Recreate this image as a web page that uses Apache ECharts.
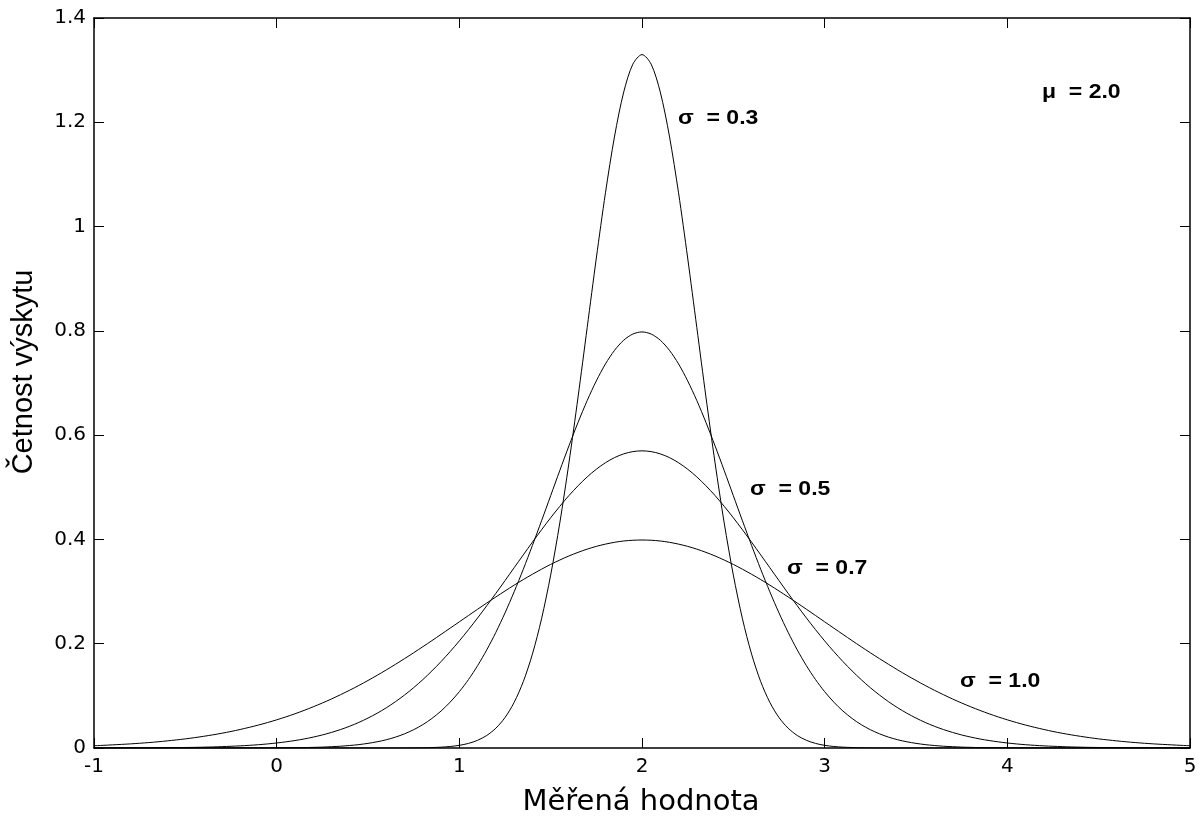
<!DOCTYPE html>
<html>
<head>
<meta charset="utf-8">
<script src="https://cdn.jsdelivr.net/npm/echarts@6/dist/echarts.min.js"></script>
<style>html,body{margin:0;padding:0;background:#fff;}#c{width:1200px;height:818px;}</style>
</head>
<body>
<div id="c"></div>
<script>
// x positions (Měřená hodnota), step 0.05
var xValues = [-1,-0.95,-0.9,-0.85,-0.8,-0.75,-0.7,-0.65,-0.6,-0.55,-0.5,-0.45,-0.4,-0.35,-0.3,-0.25,-0.2,-0.15,-0.1,-0.05,
0,0.05,0.1,0.15,0.2,0.25,0.3,0.35,0.4,0.45,0.5,0.55,0.6,0.65,0.7,0.75,0.8,0.85,0.9,0.95,
1,1.05,1.1,1.15,1.2,1.25,1.3,1.35,1.4,1.45,1.5,1.55,1.6,1.65,1.7,1.75,1.8,1.85,1.9,1.95,
2,2.05,2.1,2.15,2.2,2.25,2.3,2.35,2.4,2.45,2.5,2.55,2.6,2.65,2.7,2.75,2.8,2.85,2.9,2.95,
3,3.05,3.1,3.15,3.2,3.25,3.3,3.35,3.4,3.45,3.5,3.55,3.6,3.65,3.7,3.75,3.8,3.85,3.9,3.95,
4,4.05,4.1,4.15,4.2,4.25,4.3,4.35,4.4,4.45,4.5,4.55,4.6,4.65,4.7,4.75,4.8,4.85,4.9,4.95,5];

var sigma03 = [0,0,0,0,0,0,0,0,0,0,
0,0,0,0,0,0,0,0,0,0,
0,0,0,0,0,0,0,0,0,0,
0,0,0,0,0.0001,0.0002,0.0004,0.0009,0.0016,0.0029,
0.0051,0.0088,0.0148,0.0240,0.0380,0.0584,0.0874,0.1272,0.1800,0.2477,
0.3316,0.4317,0.5467,0.6733,0.8066,0.9397,1.0648,1.1736,1.2580,1.3115,
1.3298,
1.3115,1.2580,1.1736,1.0648,0.9397,0.8066,0.6733,0.5467,0.4317,0.3316,
0.2477,0.1800,0.1272,0.0874,0.0584,0.0380,0.0240,0.0148,0.0088,0.0051,
0.0029,0.0016,0.0009,0.0004,0.0002,0.0001,0,0,0,0,
0,0,0,0,0,0,0,0,0,0,
0,0,0,0,0,0,0,0,0,0,
0,0,0,0,0,0,0,0,0,0];

var sigma05 = [0,0,0,0,0,0,0,0,0,0,
0,0,0,0,0,0,0.0001,0.0001,0.0001,0.0002,
0.0003,0.0004,0.0006,0.0008,0.0012,0.0017,0.0025,0.0034,0.0048,0.0065,
0.0089,0.0119,0.0158,0.0208,0.0272,0.0351,0.0448,0.0567,0.0709,0.0880,
0.1080,0.1312,0.1579,0.1881,0.2218,0.2590,0.2995,0.3427,0.3884,0.4357,
0.4839,0.5322,0.5794,0.6245,0.6664,0.7041,0.7366,0.7628,0.7821,0.7939,
0.7979,
0.7939,0.7821,0.7628,0.7366,0.7041,0.6664,0.6245,0.5794,0.5322,0.4839,
0.4357,0.3884,0.3427,0.2995,0.2590,0.2218,0.1881,0.1579,0.1312,0.1080,
0.0880,0.0709,0.0567,0.0448,0.0351,0.0272,0.0208,0.0158,0.0119,0.0089,
0.0065,0.0048,0.0034,0.0025,0.0017,0.0012,0.0008,0.0006,0.0004,0.0003,
0.0002,0.0001,0.0001,0.0001,0,0,0,0,0,0,
0,0,0,0,0,0,0,0,0,0];

var sigma07 = [0.0001,0.0001,0.0001,0.0001,0.0002,0.0003,0.0003,0.0004,0.0006,0.0008,
0.0010,0.0012,0.0016,0.0020,0.0026,0.0033,0.0041,0.0051,0.0063,0.0078,
0.0096,0.0118,0.0143,0.0173,0.0209,0.0250,0.0299,0.0354,0.0418,0.0491,
0.0574,0.0667,0.0771,0.0887,0.1016,0.1157,0.1311,0.1478,0.1658,0.1850,
0.2054,0.2269,0.2494,0.2727,0.2966,0.3210,0.3457,0.3703,0.3947,0.4185,
0.4416,0.4635,0.4841,0.5029,0.5199,0.5347,0.5471,0.5570,0.5641,0.5684,
0.5699,
0.5684,0.5641,0.5570,0.5471,0.5347,0.5199,0.5029,0.4841,0.4635,0.4416,
0.4185,0.3947,0.3703,0.3457,0.3210,0.2966,0.2727,0.2494,0.2269,0.2054,
0.1850,0.1658,0.1478,0.1311,0.1157,0.1016,0.0887,0.0771,0.0667,0.0574,
0.0491,0.0418,0.0354,0.0299,0.0250,0.0209,0.0173,0.0143,0.0118,0.0096,
0.0078,0.0063,0.0051,0.0041,0.0033,0.0026,0.0020,0.0016,0.0012,0.0010,
0.0008,0.0006,0.0004,0.0003,0.0003,0.0002,0.0001,0.0001,0.0001,0.0001];

var sigma10 = [0.0044,0.0051,0.0060,0.0069,0.0079,0.0091,0.0104,0.0119,0.0136,0.0155,
0.0175,0.0198,0.0224,0.0252,0.0283,0.0317,0.0355,0.0396,0.0440,0.0488,
0.0540,0.0596,0.0656,0.0721,0.0790,0.0863,0.0940,0.1023,0.1109,0.1200,
0.1295,0.1394,0.1497,0.1604,0.1714,0.1826,0.1942,0.2059,0.2179,0.2299,
0.2420,0.2541,0.2661,0.2780,0.2897,0.3011,0.3123,0.3230,0.3332,0.3429,
0.3521,0.3605,0.3683,0.3752,0.3814,0.3867,0.3910,0.3945,0.3970,0.3984,
0.3989,
0.3984,0.3970,0.3945,0.3910,0.3867,0.3814,0.3752,0.3683,0.3605,0.3521,
0.3429,0.3332,0.3230,0.3123,0.3011,0.2897,0.2780,0.2661,0.2541,0.2420,
0.2299,0.2179,0.2059,0.1942,0.1826,0.1714,0.1604,0.1497,0.1394,0.1295,
0.1200,0.1109,0.1023,0.0940,0.0863,0.0790,0.0721,0.0656,0.0596,0.0540,
0.0488,0.0440,0.0396,0.0355,0.0317,0.0283,0.0252,0.0224,0.0198,0.0175,
0.0155,0.0136,0.0119,0.0104,0.0091,0.0079,0.0069,0.0060,0.0051,0.0044];

var seriesNames = ['σ = 0.3', 'σ = 0.5', 'σ = 0.7', 'σ = 1.0'];
var seriesValues = [sigma03, sigma05, sigma07, sigma10];

var xTitle = 'Měřená hodnota';
var yTitle = 'Četnost výskytu';
var annotations = ['σ  = 0.3', 'μ  = 2.0', 'σ  = 0.5', 'σ  = 0.7', 'σ  = 1.0'];
var annotationPos = [[678, 118], [1042, 92], [750, 489], [787, 568], [960, 681]];

function pairs(ys) {
  var out = [];
  for (var i = 0; i < xValues.length; i++) out.push([xValues[i], ys[i]]);
  return out;
}

var chart = echarts.init(document.getElementById('c'), null, {renderer: 'canvas'});
var axisLineStyle = {color: '#000', width: 1.5};
var tickStyle = {color: '#000', width: 1};
var labelStyle = {color: '#000', fontSize: 20, fontFamily: 'DejaVu Sans'};

var series = seriesValues.map(function (ys, i) {
  return {
    name: seriesNames[i],
    type: 'line',
    data: pairs(ys),
    showSymbol: false,
    symbol: 'none',
    smooth: 0.3,
    lineStyle: {color: '#000', width: 1},
    xAxisIndex: 0,
    yAxisIndex: 0,
    silent: true
  };
});

var graphics = [
  {type: 'text', x: 641, y: 802, style: {text: xTitle, fontSize: 29, fontFamily: 'DejaVu Sans', fill: '#000', textAlign: 'center', textVerticalAlign: 'middle'}},
  {type: 'text', x: 24, y: 372, rotation: Math.PI / 2, style: {text: yTitle, fontSize: 29, fontFamily: 'Liberation Sans', fill: '#000', textAlign: 'center', textVerticalAlign: 'middle'}}
];
annotations.forEach(function (t, i) {
  graphics.push({type: 'text', x: annotationPos[i][0], y: annotationPos[i][1], scaleX: 1.15,
    style: {text: t, fontSize: 20, fontWeight: 'bold', fontFamily: 'Liberation Sans', fill: '#000', textAlign: 'left', textVerticalAlign: 'middle'}});
});

chart.setOption({
  animation: false,
  backgroundColor: '#fff',
  grid: {left: 94, top: 18, width: 1096, height: 730, containLabel: false},
  xAxis: [
    {type: 'value', min: -1, max: 5, interval: 1, position: 'bottom',
      axisLine: {show: true, onZero: false, lineStyle: axisLineStyle},
      axisTick: {show: true, inside: true, length: 10, lineStyle: tickStyle},
      axisLabel: Object.assign({show: true, margin: 9}, labelStyle),
      splitLine: {show: false}},
    {type: 'value', min: -1, max: 5, interval: 1, position: 'top',
      axisLine: {show: true, onZero: false, lineStyle: axisLineStyle},
      axisTick: {show: true, inside: true, length: 10, lineStyle: tickStyle},
      axisLabel: {show: false}, splitLine: {show: false}}
  ],
  yAxis: [
    {type: 'value', min: 0, max: 1.4, interval: 0.2, position: 'left',
      axisLine: {show: true, onZero: false, lineStyle: axisLineStyle},
      axisTick: {show: true, inside: true, length: 10, lineStyle: tickStyle},
      axisLabel: Object.assign({show: true, margin: 8}, labelStyle),
      splitLine: {show: false}},
    {type: 'value', min: 0, max: 1.4, interval: 0.2, position: 'right',
      axisLine: {show: true, onZero: false, lineStyle: axisLineStyle},
      axisTick: {show: true, inside: true, length: 10, lineStyle: tickStyle},
      axisLabel: {show: false}, splitLine: {show: false}}
  ],
  series: series,
  graphic: graphics
});
</script>
</body>
</html>
